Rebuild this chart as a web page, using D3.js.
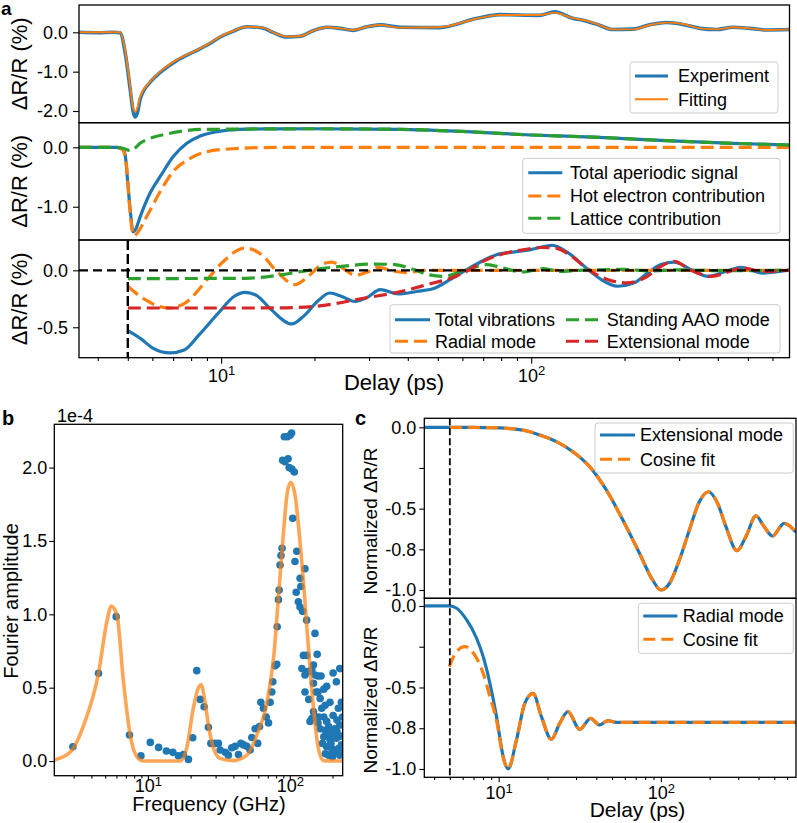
<!DOCTYPE html>
<html>
<head>
<meta charset="utf-8">
<script src="https://cdn.jsdelivr.net/npm/d3@7"></script>
<style>
  body { margin: 0; background: #fff; }
  svg { font-family: "Liberation Sans", Arial, sans-serif; }
</style>
</head>
<body>
<script>
// ---- panel a: delay (ps) vs dR/R (%) ----
const a1Exp = [[3.48,0.0],[4.0,-0.01],[4.5,0.0],[4.72,-0.01],[4.9,-0.5],[5.09,-1.45],[5.2,-2.0],[5.28,-2.15],[5.38,-2.02],[5.48,-1.7],[5.9,-1.27],[6.36,-1.02],[7.19,-0.72],[8.14,-0.5],[8.99,-0.33],[9.93,-0.12],[10.96,0.03],[12.1,0.14],[13.6,0.11],[14.7,0.0],[16.3,-0.12],[18.0,-0.1],[19.8,0.04],[21.9,0.13],[24.2,0.1],[26.7,0.05],[29.5,0.14],[32.6,0.19],[37.7,0.13],[50.5,0.12],[66.5,0.35],[79,0.45],[106,0.43],[119,0.52],[136,0.36],[150,0.29],[166,0.18],[183,0.07],[213,0.08],[241,0.19],[273,0.25],[309,0.2],[350,0.1],[396,0.07],[448,0.13],[507,0.1],[574,0.06],[681,0.07]];
const a1Fit = [[3.48,0],[4.72,0],[4.9,-0.45],[5.09,-1.38],[5.18,-1.85],[5.28,-2.02],[5.38,-1.9],[5.48,-1.64],[5.9,-1.26],[6.36,-1.0],[7.19,-0.7],[8.14,-0.49],[8.99,-0.32],[9.93,-0.11],[10.96,0.04],[12.1,0.14],[13.6,0.12],[14.7,0.0],[16.3,-0.11],[18.0,-0.094],[19.8,0.04],[21.9,0.127],[24.2,0.1],[26.7,0.06],[29.5,0.14],[32.6,0.185],[37.7,0.12],[50.5,0.13],[66.5,0.345],[79,0.44],[106,0.44],[119,0.50],[136,0.36],[150,0.30],[166,0.185],[183,0.075],[213,0.075],[241,0.185],[273,0.245],[309,0.21],[350,0.10],[396,0.075],[448,0.127],[507,0.10],[574,0.06],[681,0.075]];

const a2Total = [[3.48,0],[4.6,0],[4.8,-0.03],[4.9,-0.12],[5.0,-0.6],[5.1,-1.1],[5.2,-1.42],[5.3,-1.38],[5.48,-1.17],[5.9,-0.77],[6.4,-0.47],[7.0,-0.16],[7.75,0.067],[8.56,0.19],[9.7,0.263],[11.5,0.303],[14,0.31],[20,0.312],[37.7,0.303],[61.9,0.263],[100,0.207],[166,0.168],[273,0.111],[448,0.067],[681,0.038]];
const a2Hot = [[3.48,0],[4.6,0],[4.8,-0.03],[4.95,-0.3],[5.05,-0.9],[5.15,-1.35],[5.25,-1.49],[5.35,-1.45],[5.75,-1.17],[6.4,-0.72],[7.0,-0.41],[7.95,-0.185],[9.0,-0.074],[10.9,-0.024],[13.7,-0.005],[20,0],[681,0]];
const a2Lattice = [[3.48,0],[4.6,0],[4.85,-0.02],[5.1,-0.057],[5.25,-0.02],[5.48,0.067],[5.9,0.15],[6.68,0.224],[7.55,0.274],[8.56,0.30],[11.5,0.306],[14,0.31],[20,0.312],[37.7,0.303],[61.9,0.263],[100,0.207],[166,0.168],[273,0.111],[448,0.067],[681,0.038]];

const a3Total = [[5.0,-0.53],[5.5,-0.6],[6.0,-0.68],[6.85,-0.725],[7.6,-0.7],[8.5,-0.565],[9.8,-0.375],[11,-0.23],[11.95,-0.193],[13,-0.22],[14.5,-0.345],[16.9,-0.471],[18.5,-0.40],[20.5,-0.27],[22.4,-0.199],[24.5,-0.23],[27,-0.272],[29.5,-0.24],[32.6,-0.17],[37.3,-0.208],[43,-0.184],[49,-0.155],[54.9,-0.08],[61.9,0.005],[68.6,0.073],[77.3,0.137],[87.5,0.16],[99,0.18],[117,0.219],[132,0.15],[153,0.005],[168,-0.08],[190,-0.14],[215,-0.11],[237,-0.024],[262,0.05],[289,0.072],[328,0.005],[372,-0.053],[424,-0.01],[474,0.026],[559,-0.024],[681,0.005]];
const a3Radial = [[5.0,-0.14],[5.69,-0.258],[6.77,-0.331],[7.65,-0.287],[9.1,-0.068],[10.05,0.064],[11.95,0.196],[13.5,0.137],[15.3,-0.024],[17.3,-0.126],[19.1,-0.053],[21.1,0.05],[22.7,0.072],[25.1,0.005],[27,-0.044],[29.9,-0.01],[32,0.026],[36.4,-0.01],[40,-0.02],[45,0],[681,0]];
const a3AAO = [[5.0,-0.073],[12,-0.07],[15.3,-0.044],[19.1,0],[24.5,0.035],[31.4,0.055],[36.4,0.05],[42,0.005],[47,-0.04],[52,-0.053],[60,-0.01],[72,0.05],[81,0.02],[94,-0.015],[110,0.016],[123,-0.01],[143,0],[200,0.008],[240,-0.006],[300,0.004],[400,-0.003],[681,0]];
const a3Ext = [[5.0,-0.331],[10,-0.331],[15,-0.33],[20.1,-0.316],[29.1,-0.243],[38.3,-0.184],[47,-0.12],[54.9,-0.07],[61.9,-0.009],[70,0.079],[83,0.152],[94,0.18],[108,0.2],[120,0.195],[135,0.123],[153,0.005],[176,-0.08],[203,-0.11],[237,-0.053],[262,0.035],[289,0.079],[328,0.0],[382,-0.053],[436,-0.01],[480,0.02],[560,-0.01],[681,0.0]];
const a3Zero = [[3.48,0],[681,0]];
const pumpDelay = 5;

// ---- panel b: frequency (GHz) vs Fourier amplitude (1e-4) ----
const bScatter = [[2.96,0.097],[4.49,0.598],[5.98,0.984],[7.42,0.177],[8.93,0.036],[10.4,0.127],[11.9,0.093],[13.5,0.068],[15.0,0.059],[16.4,0.036],[17.8,0.045],[19.3,0.011],[20.7,0.159],[22.1,0.616],[23.4,0.42],[24.9,0.37],[26.7,0.23],[27.8,0.12],[29.8,0.12],[31.4,0.12],[32.3,0.075],[35.1,0.06],[36.9,0.04],[39.0,0.09],[41.2,0.10],[43.5,0.045],[45.2,0.12],[47.2,0.11],[49.8,0.10],[52.5,0.075],[54.0,0.16],[57.0,0.22],[59.4,0.12],[61.2,0.235],[62.5,0.40],[65.2,0.36],[68.2,0.30],[70.8,0.26],[72.7,0.40],[74.7,0.47],[75.9,0.54],[78.8,0.65],[81.0,0.66],[81.5,0.915],[83.2,1.10],[84.1,1.165],[85.4,1.336],[86.7,1.40],[88.2,1.45],[89.0,2.05],[91.5,2.21],[96.2,2.21],[92.5,2.04],[97.3,2.06],[100.5,2.22],[103,2.235],[99,2.0],[103.5,1.99],[107.6,1.97],[104.9,1.654],[112,1.43],[108.8,1.36],[118.2,1.245],[128,1.31],[119.6,1.19],[111,1.15],[115,1.086],[118,1.05],[123,1.02],[131.5,0.96],[150.5,0.87],[124.8,0.72],[131.5,0.72],[156,0.727],[121.7,0.63],[146.8,0.654],[128,0.586],[138.8,0.61],[150.5,0.586],[128,0.47],[146.8,0.53],[158,0.58],[202,0.60],[213,0.54],[225,0.63],[158,0.47],[173.7,0.49],[182,0.51],[163.6,0.427],[177.5,0.38],[168,0.36],[146.8,0.336],[143,0.29],[138.8,0.27],[192,0.40],[202,0.31],[220,0.36],[173.7,0.30],[182,0.27],[158,0.26],[163.6,0.22],[177.5,0.21],[188,0.235],[197.5,0.20],[208,0.22],[225,0.245],[213,0.155],[192,0.145],[173.7,0.165],[182,0.097],[197.5,0.085],[188,0.04],[208,0.065],[220,0.085],[231,0.11],[225,0.04],[200,0.03],[231,0.05],[231,0.40],[170,0.12],[185,0.18],[195,0.12],[215,0.2],[205,0.16],[228,0.17],[160,0.30],[215,0.28],[235,0.3],[198,0.05],[178,0.05],[166,0.58],[143,0.62],[134,0.61],[153,0.47],[136,0.42]];
const bFit = [[2.19,0.007],[2.85,0.063],[3.53,0.245],[4.49,0.6],[5.14,0.95],[5.52,1.057],[6.05,0.995],[6.73,0.54],[7.5,0.177],[8.36,0.03],[9.3,0.0],[16.9,0.0],[18.8,0.09],[20.9,0.36],[22.7,0.5],[23.7,0.52],[25.3,0.40],[26.7,0.245],[29.0,0.087],[32.2,0.018],[40,0.003],[49.8,0.04],[58.6,0.177],[69.1,0.40],[77.2,0.72],[83.1,1.11],[90.3,1.56],[96.2,1.835],[101.6,1.90],[109,1.81],[115,1.61],[124.8,1.22],[135.4,0.77],[146.9,0.36],[159,0.087],[173,0.003],[236,0.0]];

// ---- panel c: normalized modes ----
const c1Ext = [[3.48,0],[5,0],[8.83,-0.002],[14.1,-0.017],[17.9,-0.047],[22.7,-0.088],[28.7,-0.15],[36.4,-0.242],[46.1,-0.385],[58.3,-0.57],[73.8,-0.774],[89.1,-0.94],[100,-1.0],[112.9,-0.96],[130.1,-0.815],[149.9,-0.631],[172.7,-0.457],[197,-0.396],[223.7,-0.467],[252,-0.611],[294.5,-0.758],[334.5,-0.672],[385.5,-0.545],[433.5,-0.611],[487.5,-0.668],[575,-0.59],[681,-0.645]];
const c2Radial = [[3.48,0],[4.96,0],[5.51,-0.014],[6.35,-0.086],[7.31,-0.198],[8.03,-0.311],[8.83,-0.474],[9.70,-0.679],[10.66,-0.924],[11.43,-1.0],[12.88,-0.822],[14.49,-0.597],[16.29,-0.536],[18.35,-0.679],[21.14,-0.818],[23.78,-0.72],[26.75,-0.648],[31.6,-0.757],[36.9,-0.689],[41.9,-0.73],[47.1,-0.703],[53.1,-0.714],[681,-0.714]];
const c2FitStart = [[4.96,-0.372],[5.51,-0.28],[6.19,-0.25],[7.0,-0.29],[8.03,-0.413],[8.83,-0.556],[9.70,-0.70],[10.66,-0.93]];

const logMinorA = [4,5,6,7,8,9,20,30,40,50,60,70,80,90,200,300,400,500,600];
const logMinorB = [3,4,5,6,7,8,9,20,30,40,50,60,70,80,90,200];
const logMajor = [10,100];
const aTicks1 = [0,-1,-2], aLabels1 = ["0.0","-1.0","-2.0"];
const aTicks2 = [0,-1], aLabels2 = ["0.0","-1.0"];
const aTicks3 = [0,-0.5], aLabels3 = ["0.0","-0.5"];
const bTicks = [0,0.5,1,1.5,2], bLabels = ["0.0","0.5","1.0","1.5","2.0"];
const cTicks = [0,-0.25,-0.5,-0.75,-1], cLabels = ["0.0","","-0.5","-0.8","-1.0"];

const C = { blue: "#1f77b4", orange: "#ff7f0e", green: "#2ca02c", red: "#d62728" };
const DASH = "13,6";

const svg = d3.select("body").append("svg").attr("width", 797).attr("height", 823);

let clipId = 0;
function plotGroup(x0, y0, x1, y1) {
  const id = "clip" + (clipId++);
  svg.append("clipPath").attr("id", id).append("rect")
    .attr("x", x0).attr("y", y0).attr("width", x1 - x0).attr("height", y1 - y0);
  return svg.append("g").attr("clip-path", `url(#${id})`);
}

function drawLine(g, data, x, y, color, width, dash, opacity) {
  g.append("path").datum(data)
    .attr("fill", "none")
    .attr("stroke", color)
    .attr("stroke-width", width)
    .attr("stroke-dasharray", dash || null)
    .attr("stroke-opacity", opacity || 1)
    .attr("stroke-linejoin", "round")
    .attr("d", d3.line().x(d => x(d[0])).y(d => y(d[1])).curve(d3.curveMonotoneX));
}

function styleAxis(g) {
  g.select(".domain").remove();
  g.selectAll("line").attr("stroke", "#000").attr("stroke-width", 1.1);
  g.selectAll("text").attr("fill", "#000").attr("font-size", 18)
    .attr("font-family", '"Liberation Sans", Arial, sans-serif');
}

function yAxis(y, x0, ticks, labels, size, pad) {
  const g = svg.append("g").attr("transform", `translate(${x0},0)`)
    .call(d3.axisLeft(y).tickValues(ticks).tickFormat((d, i) => labels[i]).tickSize(size).tickPadding(pad));
  styleAxis(g);
}

function xLogAxis(x, y0, minors, size, pad) {
  const gm = svg.append("g").attr("transform", `translate(0,${y0})`)
    .call(d3.axisBottom(x).tickValues(minors).tickFormat("").tickSize(size * 0.55));
  styleAxis(gm);
  const g = svg.append("g").attr("transform", `translate(0,${y0})`)
    .call(d3.axisBottom(x).tickValues(logMajor).tickFormat("").tickSize(size).tickPadding(pad));
  styleAxis(g);
  g.selectAll(".tick text").each(function(d) {
    const t = d3.select(this);
    t.text("10");
    t.append("tspan").attr("dy", "-0.5em").attr("font-size", 13).text(Math.round(Math.log10(d)));
  });
}

function frame(x0, y0, x1, y1) {
  svg.append("rect").attr("x", x0).attr("y", y0).attr("width", x1 - x0).attr("height", y1 - y0)
    .attr("fill", "none").attr("stroke", "#000").attr("stroke-width", 1.3);
}

function label(text, x, y, size, rotate, weight) {
  const t = svg.append("text").attr("x", x).attr("y", y).attr("font-size", size)
    .attr("text-anchor", rotate ? "middle" : "start").text(text);
  if (weight) t.attr("font-weight", weight);
  if (rotate) t.attr("transform", `rotate(-90,${x},${y})`).attr("dy", "0.35em");
  return t;
}

function legend(x, y, w, h, items) {
  svg.append("rect").attr("x", x).attr("y", y).attr("width", w).attr("height", h).attr("rx", 3)
    .attr("fill", "#fff").attr("fill-opacity", 0.8).attr("stroke", "#ccc").attr("stroke-width", 1);
  items.forEach(it => {
    svg.append("line").attr("x1", it.lx).attr("x2", it.lx + it.len).attr("y1", it.y).attr("y2", it.y)
      .attr("stroke", it.color).attr("stroke-width", it.width || 3).attr("stroke-dasharray", it.dash || null);
    svg.append("text").attr("x", it.tx).attr("y", it.y).attr("dy", "0.35em").attr("font-size", 18).text(it.text);
  });
}

// ================= panel a =================
const aL = 79, aR = 789.5;
const xA = d3.scaleLog().domain([3.48, 681]).range([aL, aR]);
const yA1 = d3.scaleLinear().domain([-2.297, 0.694]).range([122.7, 5]);
const yA2 = d3.scaleLinear().domain([-1.56, 0.414]).range([240, 122.7]);
const yA3 = d3.scaleLinear().domain([-0.767, 0.266]).range([357.7, 240]);

const gA1 = plotGroup(aL, 5, aR, 122.7);
drawLine(gA1, a1Exp, xA, yA1, C.blue, 3.6);
drawLine(gA1, a1Fit, xA, yA1, C.orange, 1.9);

const gA2 = plotGroup(aL, 122.7, aR, 240);
drawLine(gA2, a2Total, xA, yA2, C.blue, 3.2);
drawLine(gA2, a2Hot, xA, yA2, C.orange, 3.2, DASH);
drawLine(gA2, a2Lattice, xA, yA2, C.green, 3.2, DASH);

const gA3 = plotGroup(aL, 240, aR, 357.7);
drawLine(gA3, a3Total, xA, yA3, C.blue, 3.2);
drawLine(gA3, a3Radial, xA, yA3, C.orange, 3.2, DASH);
drawLine(gA3, a3AAO, xA, yA3, C.green, 3.2, DASH);
drawLine(gA3, a3Ext, xA, yA3, C.red, 3.2, DASH);
drawLine(gA3, a3Zero, xA, yA3, "#000", 2.2, "9,5");
gA3.append("line").attr("x1", xA(pumpDelay)).attr("x2", xA(pumpDelay)).attr("y1", 240).attr("y2", 357.7)
  .attr("stroke", "#000").attr("stroke-width", 2.4).attr("stroke-dasharray", "10,4");

frame(aL, 5, aR, 122.7);
frame(aL, 122.7, aR, 240);
frame(aL, 240, aR, 357.7);
yAxis(yA1, aL, aTicks1, aLabels1, 6, 5);
yAxis(yA2, aL, aTicks2, aLabels2, 6, 5);
yAxis(yA3, aL, aTicks3, aLabels3, 6, 5);
xLogAxis(xA, 357.7, logMinorA, 6, 5.5);

label("\u0394R/R (%)", 19, (5 + 122.7) / 2, 22, true);
label("\u0394R/R (%)", 19, (122.7 + 240) / 2, 22, true);
label("\u0394R/R (%)", 19, (240 + 357.7) / 2, 22, true);
label("Delay (ps)", 394, 390, 22).attr("text-anchor", "middle");
label("a", 1, 15, 19, false, "bold");

legend(630, 62, 148, 51, [
  { text: "Experiment", color: C.blue, lx: 635, len: 33, tx: 678, y: 76, width: 3 },
  { text: "Fitting", color: C.orange, lx: 635, len: 33, tx: 678, y: 99.3, width: 2 }
]);
legend(522.7, 158.3, 257.3, 75, [
  { text: "Total aperiodic signal", color: C.blue, lx: 528.3, len: 34, tx: 570, y: 172.7 },
  { text: "Hot electron contribution", color: C.orange, lx: 528.3, len: 34, tx: 570, y: 196, dash: DASH },
  { text: "Lattice contribution", color: C.green, lx: 528.3, len: 34, tx: 570, y: 218.3, dash: DASH }
]);
legend(390, 304.7, 390, 48.3, [
  { text: "Total vibrations", color: C.blue, lx: 395, len: 35, tx: 435, y: 319.7 },
  { text: "Radial mode", color: C.orange, lx: 395, len: 35, tx: 435, y: 341.3, dash: DASH },
  { text: "Standing AAO mode", color: C.green, lx: 566, len: 33, tx: 606.7, y: 319.7, dash: DASH },
  { text: "Extensional mode", color: C.red, lx: 566, len: 33, tx: 606.7, y: 341.3, dash: DASH }
]);

// ================= panel b =================
const bL = 54.3, bR = 342.7, bT = 424.3, bB = 775.7;
const xB = d3.scaleLog().domain([2.19, 236]).range([bL, bR]);
const yB = d3.scaleLinear().domain([-0.10, 2.295]).range([bB, bT]);
const gB = plotGroup(bL, bT, bR, bB);
gB.selectAll("circle").data(bScatter).enter().append("circle")
  .attr("cx", d => xB(d[0])).attr("cy", d => yB(d[1])).attr("r", 3.8).attr("fill", C.blue);
drawLine(gB, bFit, xB, yB, C.orange, 3.6, null, 0.7);
frame(bL, bT, bR, bB);
yAxis(yB, bL, bTicks, bLabels, 5, 2);
xLogAxis(xB, bB, logMinorB, 5, -1);
label("Fourier amplitude", 11, 601, 20, true);
label("Frequency (GHz)", 209, 811, 20).attr("text-anchor", "middle");
label("1e-4", 57, 422, 18);
label("b", 2, 425, 20, false, "bold");

// ================= panel c =================
const cL = 424.3, cR = 796, cT = 418.3, cM = 598.3, cB = 777.3;
const xC = d3.scaleLog().domain([3.48, 681]).range([cL, cR]);
const yC1 = d3.scaleLinear().domain([-1.051, 0.0553]).range([cM, cT]);
const yC2 = d3.scaleLinear().domain([-1.051, 0.047]).range([cB, cM]);

const gC1 = plotGroup(cL, cT, cR, cM);
drawLine(gC1, c1Ext, xC, yC1, C.blue, 3.2);
drawLine(gC1, c1Ext.filter(d => d[0] >= pumpDelay), xC, yC1, C.orange, 3.2, "12,6");
const gC2 = plotGroup(cL, cM, cR, cB);
drawLine(gC2, c2Radial, xC, yC2, C.blue, 3.2);
drawLine(gC2, c2FitStart.concat(c2Radial.filter(d => d[0] > 11)), xC, yC2, C.orange, 3.2, "12,6");

svg.append("line").attr("x1", xC(pumpDelay)).attr("x2", xC(pumpDelay)).attr("y1", cT).attr("y2", cB)
  .attr("stroke", "#000").attr("stroke-width", 1.8).attr("stroke-dasharray", "7,3");
frame(cL, cT, cR, cM);
frame(cL, cM, cR, cB);
yAxis(yC1, cL, cTicks, cLabels, 5, 3);
yAxis(yC2, cL, cTicks, cLabels, 5, 3);
xLogAxis(xC, cB, logMinorA, 5, 4);
label("Normalized \u0394R/R", 370, 521, 19, true);
label("Normalized \u0394R/R", 370, 700, 19, true);
label("Delay (ps)", 637.5, 817, 21).attr("text-anchor", "middle");
label("c", 355, 425, 20, false, "bold");

legend(595, 423, 198.3, 50, [
  { text: "Extensional mode", color: C.blue, lx: 600, len: 35, tx: 640, y: 435 },
  { text: "Cosine fit", color: C.orange, lx: 600, len: 35, tx: 640, y: 459.3, dash: "12,6" }
]);
legend(638.3, 603.3, 155, 50, [
  { text: "Radial mode", color: C.blue, lx: 643.3, len: 34, tx: 682.7, y: 616 },
  { text: "Cosine fit", color: C.orange, lx: 643.3, len: 34, tx: 682.7, y: 639.3, dash: "12,6" }
]);
</script>
</body>
</html>
